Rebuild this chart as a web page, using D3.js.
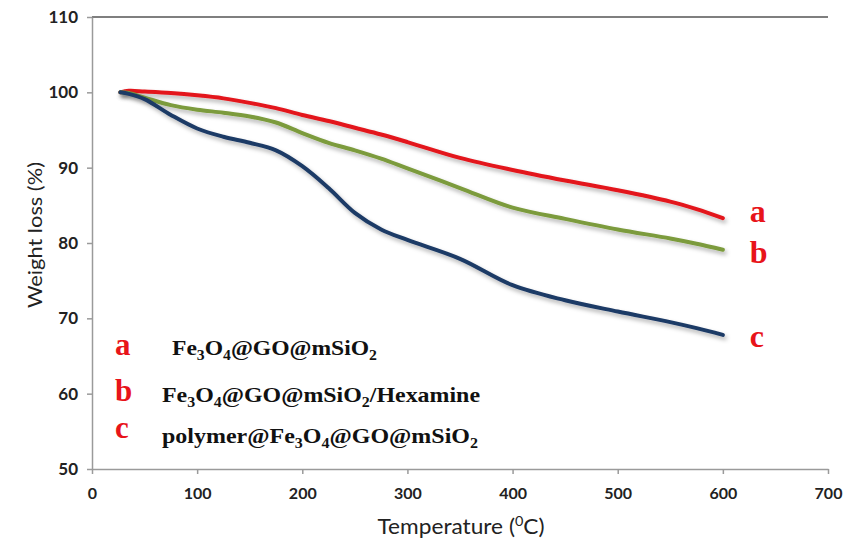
<!DOCTYPE html>
<html><head><meta charset="utf-8">
<script src="https://cdn.jsdelivr.net/npm/d3@7"></script>
<style>body{margin:0;background:#fff}svg{display:block}</style>
</head><body>
<svg id="chart" width="861" height="541"></svg>
<script>
const temps = [27, 35, 50, 75, 100, 125, 150, 175, 200, 225, 250, 275, 300, 350, 400, 450, 500, 550, 575, 600];
const seriesA = [100.0, 100.2, 100.1, 99.9, 99.6, 99.2, 98.6, 97.9, 97.0, 96.2, 95.3, 94.4, 93.4, 91.3, 89.7, 88.3, 87.0, 85.5, 84.5, 83.3];
const seriesB = [100.0, 99.9, 99.3, 98.3, 97.7, 97.3, 96.8, 96.0, 94.6, 93.3, 92.3, 91.2, 89.9, 87.3, 84.7, 83.2, 81.8, 80.6, 79.9, 79.1];
const seriesC = [100.0, 99.8, 99.1, 97.0, 95.2, 94.1, 93.3, 92.3, 90.2, 87.3, 84.0, 81.8, 80.4, 77.9, 74.4, 72.4, 70.9, 69.5, 68.7, 67.8];
const seriesKeys = ["a", "b", "c"];
const legendNames = ["Fe3O4@GO@mSiO2", "Fe3O4@GO@mSiO2/Hexamine", "polymer@Fe3O4@GO@mSiO2"];
const xTicks = [0, 100, 200, 300, 400, 500, 600, 700];
const yTicks = [50, 60, 70, 80, 90, 100, 110];
const xTitle = "Temperature (";
const yTitle = "Weight loss (%)";

const colors = ["#e3161c", "#7b9b3c", "#1d3a66"];
const svg = d3.select("#chart");
const m = {l: 92, t: 17, r: 828, b: 469};
const x = d3.scaleLinear().domain([0, 700]).range([m.l, m.r]);
const y = d3.scaleLinear().domain([50, 110]).range([m.b, m.t]);

const defs = svg.append("defs");
const f = defs.append("filter").attr("id", "sh").attr("x", "-5%").attr("y", "-5%").attr("width", "110%").attr("height", "120%");
f.append("feDropShadow").attr("dx", 2).attr("dy", 3).attr("stdDeviation", 2).attr("flood-color", "#000").attr("flood-opacity", 0.3);

// top frame line
svg.append("line").attr("x1", m.l).attr("x2", m.r).attr("y1", m.t).attr("y2", m.t)
  .attr("stroke", "#555").attr("stroke-width", 1.5);

const tickFont = "Lato, 'Open Sans', sans-serif";
const xAxis = svg.append("g").attr("transform", `translate(0,${m.b})`)
  .call(d3.axisBottom(x).tickValues(xTicks).tickSize(5).tickPadding(14).tickSizeOuter(0));
const yAxis = svg.append("g").attr("transform", `translate(${m.l},0)`)
  .call(d3.axisLeft(y).tickValues(yTicks).tickSize(5).tickPadding(9).tickSizeOuter(0));
[xAxis, yAxis].forEach(g => {
  g.select(".domain").attr("stroke", "#9a9a9a").attr("stroke-width", 1.5);
  g.selectAll(".tick line").attr("stroke", "#9a9a9a").attr("stroke-width", 1.5);
  g.selectAll(".tick text").attr("fill", "#222").attr("font-family", tickFont)
    .attr("font-weight", "bold").attr("font-size", 16);
});
yAxis.selectAll(".tick text").attr("font-size", 17);

const line = d3.line().x((d, i) => x(temps[i])).y(d => y(d)).curve(d3.curveCatmullRom.alpha(0.5));
const all = [seriesA, seriesB, seriesC];
const labelOffsets = [4, 13, 12];
all.forEach((s, k) => {
  svg.append("path").datum(s).attr("d", line).attr("fill", "none")
    .attr("stroke", colors[k]).attr("stroke-width", 4).attr("stroke-linecap", "round")
    .attr("filter", "url(#sh)");
});
all.forEach((s, k) => {
  svg.append("text").attr("x", x(temps[temps.length - 1]) + 27)
    .attr("y", y(s[s.length - 1]) + labelOffsets[k])
    .attr("font-family", "'Liberation Serif', serif").attr("font-weight", "bold")
    .attr("font-size", 32).attr("fill", "#e8141a").text(seriesKeys[k]);
});

// legend
const legY = [355, 402, 443];
const letterY = [355, 401, 438];
const legTextX = [172, 162, 162];
const legLen = [205, 318, 316];
seriesKeys.forEach((key, k) => {
  svg.append("text").attr("x", 115).attr("y", letterY[k])
    .attr("font-family", "'Liberation Serif', serif").attr("font-weight", "bold")
    .attr("font-size", 31).attr("fill", "#e8141a").text(key);
  const t = svg.append("text").attr("x", legTextX[k]).attr("y", legY[k])
    .attr("font-family", "'Liberation Serif', serif").attr("font-weight", "bold")
    .attr("font-size", 21).attr("fill", "#111")
    .attr("textLength", legLen[k]).attr("lengthAdjust", "spacingAndGlyphs");
  const parts = legendNames[k].split(/(\d)/).filter(p => p !== "");
  let low = false;
  parts.forEach(p => {
    if (/^\d$/.test(p)) {
      t.append("tspan").attr("font-size", 14).attr("dy", low ? 0 : 5).text(p);
      low = true;
    } else {
      t.append("tspan").attr("dy", low ? -5 : 0).text(p);
      low = false;
    }
  });
});

// axis titles
svg.append("text").attr("transform", `translate(42,235) rotate(-90)`)
  .attr("text-anchor", "middle").attr("font-family", tickFont).attr("font-size", 20)
  .attr("fill", "#222").attr("textLength", 146).attr("lengthAdjust", "spacingAndGlyphs").text(yTitle);
const xt = svg.append("text").attr("x", 461).attr("y", 534).attr("text-anchor", "middle")
  .attr("font-family", tickFont).attr("font-size", 22).attr("fill", "#222")
  .attr("textLength", 167).attr("lengthAdjust", "spacingAndGlyphs");
xt.append("tspan").text(xTitle);
xt.append("tspan").attr("font-size", 14).attr("dy", -8).text("0");
xt.append("tspan").attr("dy", 8).text("C)");
</script>
</body></html>
